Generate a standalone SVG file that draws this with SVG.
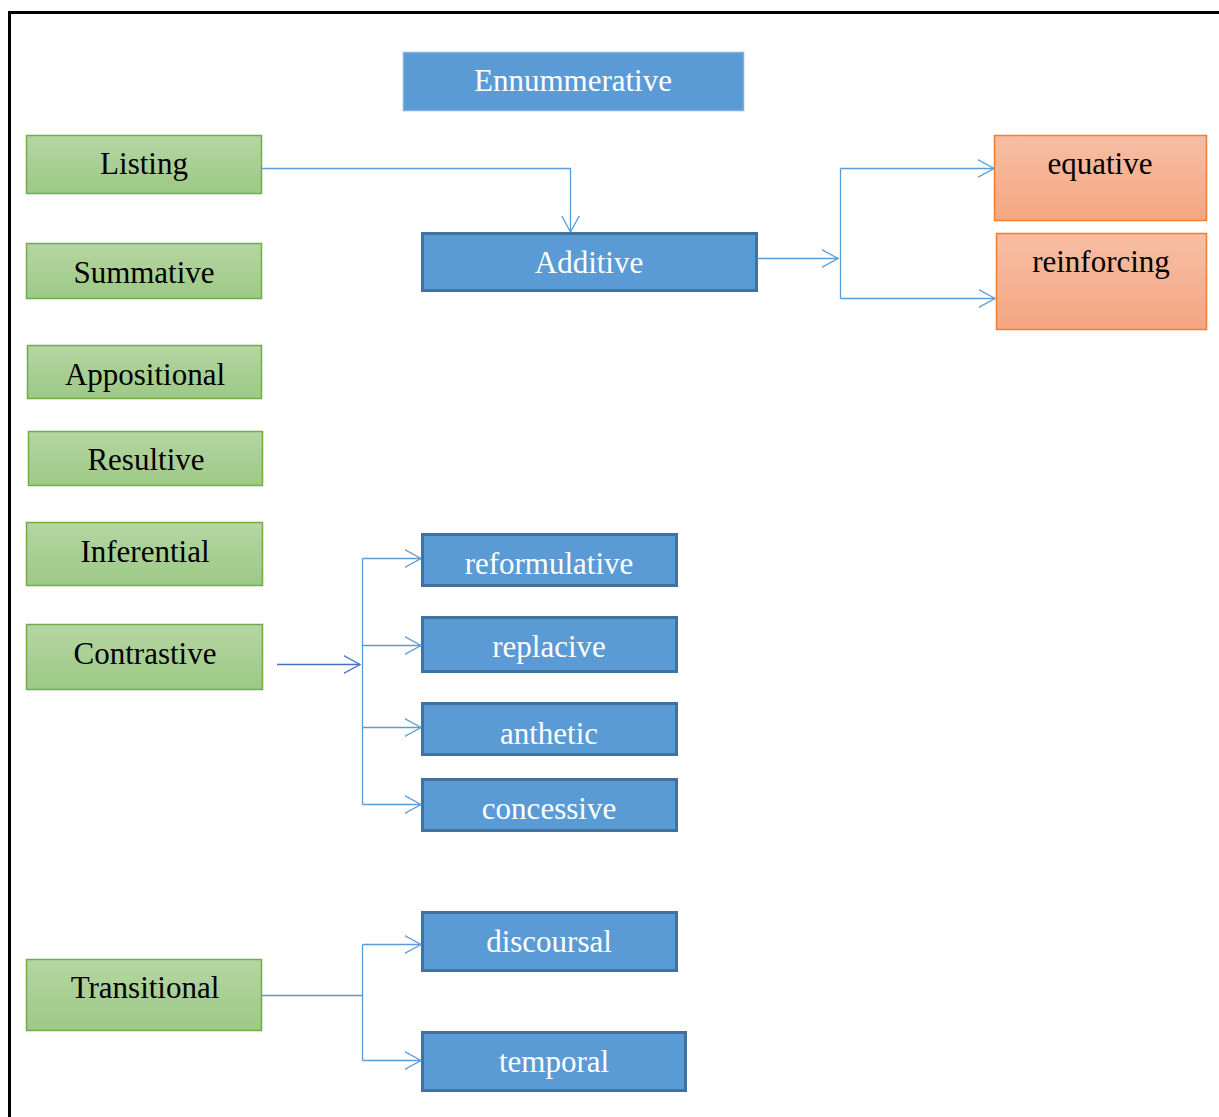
<svg xmlns="http://www.w3.org/2000/svg" width="1219" height="1117" viewBox="0 0 1219 1117">
<defs>
<linearGradient id="gGreen" x1="0" y1="0" x2="0" y2="1"><stop offset="0" stop-color="#B5D6A3"/><stop offset="1" stop-color="#9DC985"/></linearGradient>
<linearGradient id="gOrange" x1="0" y1="0" x2="0" y2="1"><stop offset="0" stop-color="#F7BEA4"/><stop offset="1" stop-color="#F5A681"/></linearGradient>
<marker id="arr" viewBox="0 0 18 20" refX="16.5" refY="10" markerWidth="18" markerHeight="20" markerUnits="userSpaceOnUse" orient="auto"><path d="M0,1 L16.5,10 L0,19" fill="none" stroke="#5B9BD5" stroke-width="1.3"/></marker>
<marker id="arrD" viewBox="0 0 18 20" refX="16.5" refY="10" markerWidth="18" markerHeight="20" markerUnits="userSpaceOnUse" orient="auto"><path d="M0,1 L16.5,10 L0,19" fill="none" stroke="#4472C4" stroke-width="1.3"/></marker>
<style>
.green rect{fill:url(#gGreen);stroke:#70AD47;stroke-width:1.5}
.blue rect{fill:#5B9BD5;stroke:#41719C;stroke-width:3}
.blue0 rect{fill:#5B9BD5;stroke:#7FB0DE;stroke-width:1.5}
.orange rect{fill:url(#gOrange);stroke:#ED7D31;stroke-width:1.5}
text{font-family:"Liberation Serif","DejaVu Serif",serif;font-size:31px;text-anchor:middle}
.green text,.orange text{fill:#000}
.blue text,.blue0 text{fill:#fff}
.c{fill:none;stroke:#5B9BD5;stroke-width:1.3}
</style>
</defs>
<rect x="0" y="0" width="1219" height="1117" fill="#fff"/>
<path d="M9.5,1117 V12.5 H1219" fill="none" stroke="#000" stroke-width="3"/>

<g id="ennummerative" class="blue0"><rect x="403.5" y="52.5" width="340" height="58"/><text x="573" y="91">Ennummerative</text></g>
<g id="listing" class="green"><rect x="26.5" y="135.5" width="235" height="58"/><text x="144" y="174">Listing</text></g>
<g id="summative" class="green"><rect x="26.5" y="243.5" width="235" height="55"/><text x="144" y="283">Summative</text></g>
<g id="appositional" class="green"><rect x="27.5" y="345.5" width="234" height="53"/><text x="145" y="385">Appositional</text></g>
<g id="resultive" class="green"><rect x="28.5" y="431.5" width="234" height="54"/><text x="146" y="470">Resultive</text></g>
<g id="inferential" class="green"><rect x="26.5" y="522.5" width="236" height="63"/><text x="145" y="562">Inferential</text></g>
<g id="contrastive" class="green"><rect x="26.5" y="624.5" width="236" height="65"/><text x="145" y="664">Contrastive</text></g>
<g id="transitional" class="green"><rect x="26.5" y="959.5" width="235" height="71"/><text x="145" y="998">Transitional</text></g>

<g id="additive" class="blue"><rect x="422.5" y="233.5" width="334" height="57"/><text x="589" y="273">Additive</text></g>
<g id="equative" class="orange"><rect x="994.5" y="135.5" width="212" height="85"/><text x="1100" y="174">equative</text></g>
<g id="reinforcing" class="orange"><rect x="996.5" y="233.5" width="210" height="96"/><text x="1101" y="272">reinforcing</text></g>

<g id="reformulative" class="blue"><rect x="422.5" y="534.5" width="254" height="51"/><text x="549" y="574">reformulative</text></g>
<g id="replacive" class="blue"><rect x="422.5" y="617.5" width="254" height="54"/><text x="549" y="657">replacive</text></g>
<g id="anthetic" class="blue"><rect x="422.5" y="703.5" width="254" height="51"/><text x="549" y="744">anthetic</text></g>
<g id="concessive" class="blue"><rect x="422.5" y="779.5" width="254" height="51"/><text x="549" y="819">concessive</text></g>
<g id="discoursal" class="blue"><rect x="422.5" y="912.5" width="254" height="58"/><text x="549" y="952">discoursal</text></g>
<g id="temporal" class="blue"><rect x="422.5" y="1032.5" width="263" height="58"/><text x="554" y="1072">temporal</text></g>

<g id="connectors">
<path class="c" d="M262,168.5 H570.5 V232" marker-end="url(#arr)"/>
<path class="c" d="M757,258.5 H838" marker-end="url(#arr)"/>
<path class="c" d="M840.5,168.5 V298.5"/>
<path class="c" d="M840.5,168.5 H994" marker-end="url(#arr)"/>
<path class="c" d="M840.5,298.5 H995" marker-end="url(#arr)"/>
<path class="c" d="M277,664.5 H360" style="stroke:#4472C4" marker-end="url(#arrD)"/>
<path class="c" d="M362.5,558.5 V804.5"/>
<path class="c" d="M362.5,558.5 H421" marker-end="url(#arr)"/>
<path class="c" d="M362.5,645.5 H421" marker-end="url(#arr)"/>
<path class="c" d="M362.5,727.5 H421" marker-end="url(#arr)"/>
<path class="c" d="M362.5,804.5 H421" marker-end="url(#arr)"/>
<path class="c" d="M262,995.5 H362.5"/>
<path class="c" d="M362.5,944.5 V1060.5"/>
<path class="c" d="M362.5,944.5 H421" marker-end="url(#arr)"/>
<path class="c" d="M362.5,1060.5 H421" marker-end="url(#arr)"/>
</g>
</svg>
